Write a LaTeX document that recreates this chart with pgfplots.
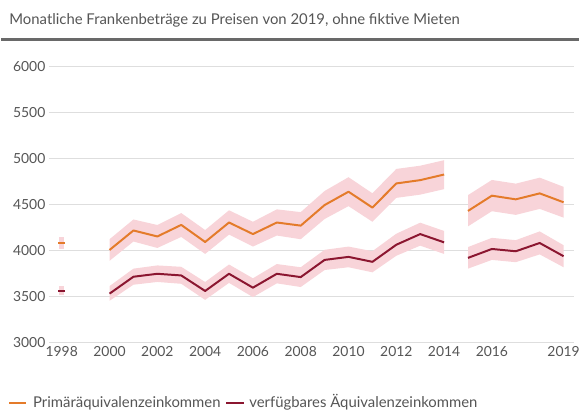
\documentclass[border=0pt]{standalone}
\usepackage{pgfplots}
\pgfplotsset{compat=1.18}
\usepackage{pgfplotstable}
\usepgfplotslibrary{fillbetween}
\usepackage{fontspec}
\setmainfont{Lato}
\definecolor{cOr}{RGB}{228,123,42}
\definecolor{cRd}{RGB}{139,22,48}
\definecolor{cBand}{RGB}{248,212,217}
\definecolor{cGrid}{RGB}{222,222,222}
\definecolor{cTxt}{RGB}{85,85,85}
\definecolor{cRule}{RGB}{105,105,105}

\pgfplotstableread{
year val lo hi
2000 4003 3885 4120
2001 4215 4095 4335
2002 4150 4025 4275
2003 4276 4145 4405
2004 4090 3960 4220
2005 4302 4170 4435
2006 4176 4040 4310
2007 4302 4160 4445
2008 4268 4120 4415
2009 4492 4340 4645
2010 4637 4480 4795
2011 4464 4310 4620
2012 4727 4570 4885
2013 4763 4605 4920
2014 4824 4665 4980
}\orL
\pgfplotstableread{
year val lo hi
2015 4428 4260 4600
2016 4594 4425 4765
2017 4554 4385 4725
2018 4619 4450 4790
2019 4522 4355 4690
}\orR
\pgfplotstableread{
year val lo hi
2000 3528 3450 3610
2001 3712 3625 3800
2002 3744 3655 3835
2003 3726 3635 3820
2004 3557 3460 3655
2005 3744 3645 3845
2006 3593 3490 3695
2007 3744 3640 3850
2008 3708 3600 3815
2009 3895 3785 4005
2010 3928 3815 4040
2011 3874 3760 3990
2012 4060 3940 4180
2013 4176 4050 4300
2014 4086 3960 4210
}\rdL
\pgfplotstableread{
year val lo hi
2015 3917 3800 4035
2016 4014 3895 4135
2017 3989 3870 4110
2018 4079 3955 4205
2019 3935 3815 4055
}\rdR

\begin{document}
\begin{tikzpicture}
\begin{axis}[
  at={(0pt,0pt)}, anchor=south west,
  scale only axis, width=529pt, height=278pt,
  xmin=1997.46, xmax=2019.415, ymin=3000, ymax=6000,
  axis line style={draw=none},
  ymajorgrids, grid style={cGrid, line width=0.9pt},
  xtick={1998,2000,...,2016,2019},
  ytick={3000,3500,...,6000},
  major tick length=0pt,
  tick label style={font=\fontsize{14}{16}\selectfont, text=cTxt},
  /pgf/number format/assume math mode=true,
  /pgf/number format/1000 sep={},
  xticklabel style={yshift=-1pt},
]
\addplot[name path=oLh, draw=none] table[x=year,y=hi]{\orL};
\addplot[name path=oLl, draw=none] table[x=year,y=lo]{\orL};
\addplot[cBand] fill between[of=oLh and oLl];
\addplot[name path=oRh, draw=none] table[x=year,y=hi]{\orR};
\addplot[name path=oRl, draw=none] table[x=year,y=lo]{\orR};
\addplot[cBand] fill between[of=oRh and oRl];
\addplot[name path=rLh, draw=none] table[x=year,y=hi]{\rdL};
\addplot[name path=rLl, draw=none] table[x=year,y=lo]{\rdL};
\addplot[cBand] fill between[of=rLh and rLl];
\addplot[name path=rRh, draw=none] table[x=year,y=hi]{\rdR};
\addplot[name path=rRl, draw=none] table[x=year,y=lo]{\rdR};
\addplot[cBand] fill between[of=rRh and rRl];

\addplot[cOr, line width=2pt, line join=round] table[x=year,y=val]{\orL};
\addplot[cOr, line width=2pt, line join=round] table[x=year,y=val]{\orR};
\addplot[cRd, line width=2pt, line join=round] table[x=year,y=val]{\rdL};
\addplot[cRd, line width=2pt, line join=round] table[x=year,y=val]{\rdR};

\addplot[only marks, mark=-, mark size=3.5pt, cOr, mark options={line width=2pt},
  error bars/.cd, y dir=both, y explicit, error mark=none,
  error bar style={line width=5pt, cBand}]
  coordinates {(1998,4079) +- (0,70)};
\addplot[only marks, mark=-, mark size=3.5pt, cRd, mark options={line width=2pt},
  error bars/.cd, y dir=both, y explicit, error mark=none,
  error bar style={line width=5pt, cBand}]
  coordinates {(1998,3562) +- (0,45)};
\end{axis}
\node[anchor=base west, inner sep=0pt, font=\fontsize{15}{18}\selectfont, text=cTxt] at (-40pt,320pt)
  {Monatliche Frankenbeträge zu Preisen von 2019, ohne fiktive Mieten};
\draw[cRule, line width=2.5pt] (-48pt,305pt) -- (535pt,305pt);
\draw[cOr, line width=2pt] (-40pt,-61.5pt) -- (-23pt,-61.5pt);
\node[anchor=base west, inner sep=0pt, font=\fontsize{15}{18}\selectfont, text=cTxt] at (-16pt,-66pt)
  {Primäräquivalenzeinkommen};
\draw[cRd, line width=2pt] (179pt,-61.5pt) -- (197pt,-61.5pt);
\node[anchor=base west, inner sep=0pt, font=\fontsize{15}{18}\selectfont, text=cTxt] at (202pt,-66pt)
  {verfügbares Äquivalenzeinkommen};
\path (-48pt,-69pt) rectangle (535pt,345pt);
\end{tikzpicture}
\end{document}
